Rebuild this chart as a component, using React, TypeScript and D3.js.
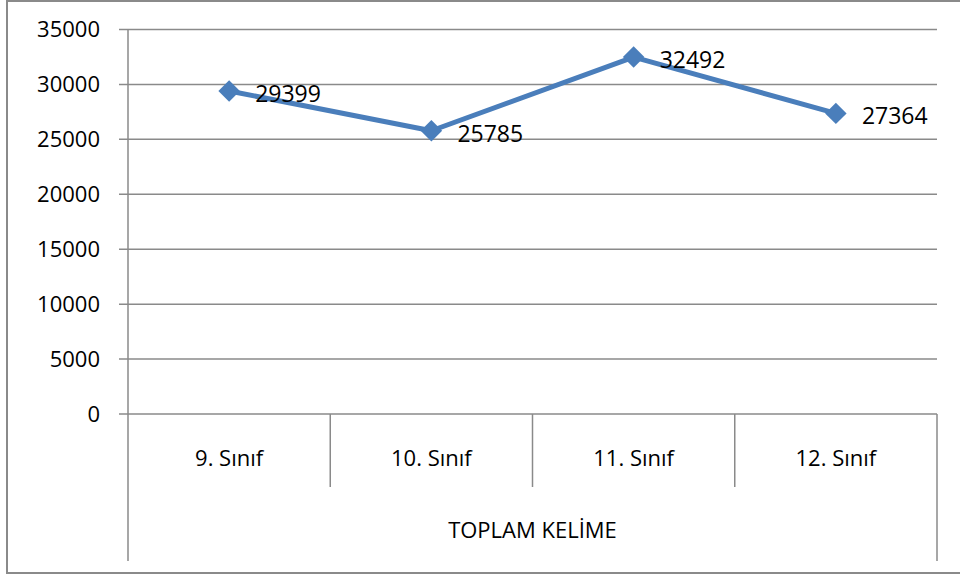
import * as d3 from "d3";

const categories = ["9. Sınıf", "10. Sınıf", "11. Sınıf", "12. Sınıf"];
const values = [29399, 25785, 32492, 27364];
const yTicks = [0, 5000, 10000, 15000, 20000, 25000, 30000, 35000];
const groupLabel = "TOPLAM KELİME";

const WIDTH = 960;
const HEIGHT = 577;
const PLOT = { left: 128, right: 937, top: 29.5, bottom: 414 };
const FONT = "'Open Sans', 'Liberation Sans', sans-serif";
const GRID = "#8a8a8a";
const BLUE = "#4a7ebb";

export default function App() {
  const xScale = d3
    .scaleBand()
    .domain(categories)
    .range([PLOT.left, PLOT.right]);

  const yScale = d3
    .scaleLinear()
    .domain([0, 35000])
    .range([PLOT.bottom, PLOT.top]);

  const cx = (c: string) => (xScale(c) ?? 0) + xScale.bandwidth() / 2;

  const line = d3
    .line<number>()
    .x((_, i) => cx(categories[i]))
    .y((d) => yScale(d));

  // square turned 45° => Excel-style diamond marker
  const diamond = d3.symbol().type(d3.symbolSquare).size(230)();

  return (
    <svg
      width={WIDTH}
      height={HEIGHT}
      style={{ position: "absolute", left: 0, top: 0, background: "#fff" }}
    >
      {/* chart frame */}
      <rect x={7} y={1} width={980} height={572} fill="#fff" stroke={GRID} strokeWidth={2} />

      {/* Y grid + ticks */}
      {yTicks.map((t) => (
        <g key={t} transform={`translate(0,${yScale(t)})`}>
          <line x1={119} x2={PLOT.right} stroke={GRID} strokeWidth={1.5} />
          <text
            x={100}
            dy="0.35em"
            textAnchor="end"
            fontFamily={FONT}
            fontSize={22}
            fill="#000"
          >
            {t}
          </text>
        </g>
      ))}

      {/* Y axis */}
      <line x1={PLOT.left} x2={PLOT.left} y1={PLOT.top} y2={561} stroke={GRID} strokeWidth={1.5} />
      <line x1={PLOT.right} x2={PLOT.right} y1={PLOT.bottom} y2={561} stroke={GRID} strokeWidth={1.5} />

      {/* category separators */}
      {categories.slice(1).map((c) => (
        <line
          key={c}
          x1={xScale(c)}
          x2={xScale(c)}
          y1={PLOT.bottom}
          y2={487}
          stroke={GRID}
          strokeWidth={1.5}
        />
      ))}

      {/* category labels */}
      {categories.map((c) => (
        <text
          key={c}
          x={cx(c)}
          y={458}
          dy="0.35em"
          textAnchor="middle"
          fontFamily={FONT}
          fontSize={22}
          fill="#000"
        >
          {c}
        </text>
      ))}
      <text
        x={(PLOT.left + PLOT.right) / 2}
        y={530}
        dy="0.35em"
        textAnchor="middle"
        fontFamily={FONT}
        fontSize={22}
        fill="#000"
      >
        {groupLabel}
      </text>

      {/* series */}
      <path d={line(values) ?? ""} fill="none" stroke={BLUE} strokeWidth={5} strokeLinejoin="round" />
      {values.map((v, i) => (
        <path
          key={i}
          d={diamond ?? ""}
          transform={`translate(${cx(categories[i])},${yScale(v)}) rotate(45)`}
          fill={BLUE}
        />
      ))}
      {values.map((v, i) => (
        <text
          key={i}
          x={cx(categories[i]) + 26}
          y={yScale(v) + 3}
          dy="0.35em"
          fontFamily={FONT}
          fontSize={23}
          fill="#000"
        >
          {v}
        </text>
      ))}
    </svg>
  );
}
